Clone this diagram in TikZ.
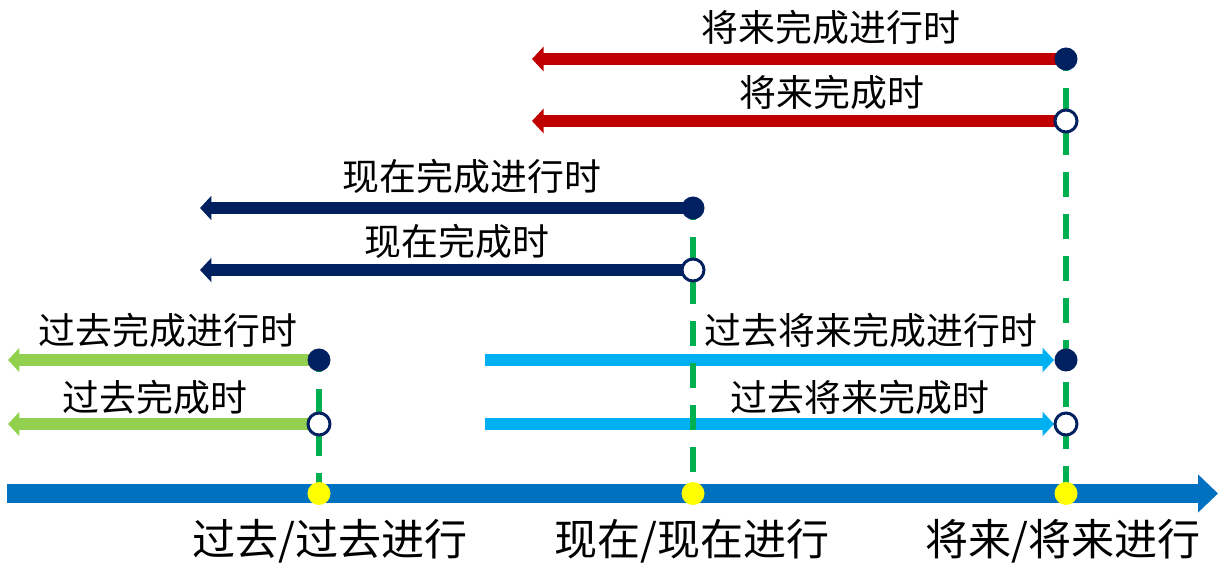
\documentclass[tikz,border=0pt]{standalone}
\usepackage{fontspec}
\newfontfamily\cjk{Noto Sans CJK SC}
\usetikzlibrary{arrows.meta}
\definecolor{tRed}{HTML}{C00000}
\definecolor{tNavy}{HTML}{002060}
\definecolor{tGreen}{HTML}{92D050}
\definecolor{tCyan}{HTML}{00B0F0}
\definecolor{tAxis}{HTML}{0070C0}
\definecolor{tGuide}{HTML}{00B050}
\definecolor{tYellow}{HTML}{FFFF00}

\begin{document}
\begin{tikzpicture}[x=0.02cm,y=-0.02cm,
  bar/.style={line width=6.8pt,-{Triangle[length=0.23cm,width=0.48cm]}},
  guide/.style={tGuide,line width=3.4pt,dash pattern=on 0.5cm off 0.34cm,dash phase=0.26cm},
  fdot/.style={circle,fill=tNavy,inner sep=0pt,minimum size=0.46cm},
  hdot/.style={circle,draw=tNavy,fill=white,line width=1.7pt,inner sep=0pt,minimum size=0.44cm},
  ydot/.style={circle,fill=tYellow,inner sep=0pt,minimum size=0.46cm},
  lbl/.style={font=\cjk\fontsize{21}{25}\selectfont,inner sep=0pt},
  biglbl/.style={font=\cjk\fontsize{24.5}{29}\selectfont,inner sep=0pt}]
\useasboundingbox (0,0) rectangle (1221,573);
% time points on the axis
\coordinate (p1) at (319,493.5);
\coordinate (p2) at (693,493.5);
\coordinate (p3) at (1066,493.5);
% events
\coordinate (a1) at (1066,59);
\coordinate (a2) at (1066,121);
\coordinate (b1) at (693,208);
\coordinate (b2) at (693,270);
\coordinate (c1) at (319,360);
\coordinate (c2) at (319,424);
\coordinate (e1) at (1066,360);
\coordinate (e2) at (1066,424);
% free ends of the bars
\coordinate (ta1) at (532,59);
\coordinate (ta2) at (532,121);
\coordinate (tb1) at (200,208);
\coordinate (tb2) at (200,270);
\coordinate (tc1) at (8,360);
\coordinate (tc2) at (8,424);
\coordinate (se1) at (485,360);
\coordinate (se2) at (485,424);
\coordinate (te1) at (1054,360);
\coordinate (te2) at (1054,424);
\coordinate (ax0) at (7,493.5);
\coordinate (ax1) at (1218,493.5);
% bars
\draw[bar,tRed]   (a1) -- (ta1);
\draw[bar,tRed]   (a2) -- (ta2);
\draw[bar,tNavy]  (b1) -- (tb1);
\draw[bar,tNavy]  (b2) -- (tb2);
\draw[bar,tGreen] (c1) -- (tc1);
\draw[bar,tGreen] (c2) -- (tc2);
\draw[bar,tCyan]  (se1) -- (te1);
\draw[bar,tCyan]  (se2) -- (te2);
% guides down to the axis
\draw[guide] (a1) -- (p3);
\draw[guide] (b1) -- (p2);
\draw[guide] (c1) -- (p1);
% time axis
\draw[tAxis,line width=10.8pt,-{Triangle[length=0.4cm,width=0.74cm]}] (ax0) -- (ax1);
\node[ydot] (y1) at (p1) {};
\node[ydot] (y2) at (p2) {};
\node[ydot] (y3) at (p3) {};
% event dots
\node[fdot] (da1) at (a1) {};
\node[hdot] (da2) at (a2) {};
\node[fdot] (db1) at (b1) {};
\node[hdot] (db2) at (b2) {};
\node[fdot] (dc1) at (c1) {};
\node[hdot] (dc2) at (c2) {};
\node[fdot] (de1) at (e1) {};
\node[hdot] (de2) at (e2) {};
% tense names
\node[lbl] (la1) at (831,27) {将来完成进行时};
\node[lbl] (la2) at (832,92) {将来完成时};
\node[lbl] (lb1) at (472,176) {现在完成进行时};
\node[lbl] (lb2) at (457,241) {现在完成时};
\node[lbl] (lc1) at (168,330) {过去完成进行时};
\node[lbl] (lc2) at (155,397) {过去完成时};
\node[lbl] (le1) at (871,330) {过去将来完成进行时};
\node[lbl] (le2) at (860,397) {过去将来完成时};
\node[biglbl] (lp1) at (330,541) {过去/过去进行};
\node[biglbl] (lp2) at (692,541) {现在/现在进行};
\node[biglbl] (lp3) at (1063,541) {将来/将来进行};
\end{tikzpicture}
\end{document}
